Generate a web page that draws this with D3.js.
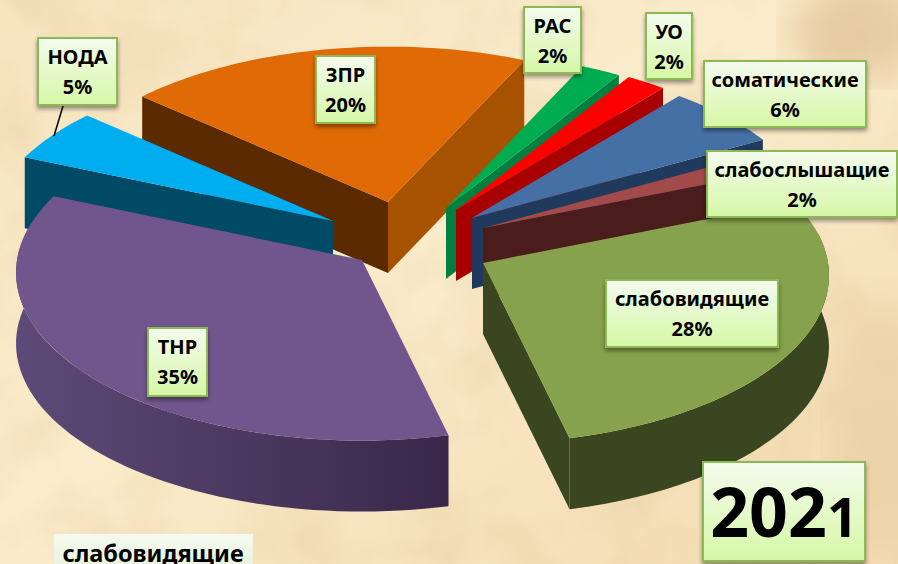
<!DOCTYPE html>
<html lang="ru">
<head>
<meta charset="utf-8">
<script src="https://cdn.jsdelivr.net/npm/d3@7"></script>
<style>
  html, body { margin: 0; padding: 0; background: #f8e6c2; overflow: hidden; }
  text { font-family: "Noto Sans", "Open Sans", sans-serif; font-weight: 700; fill: #000; text-anchor: middle; }
</style>
</head>
<body>
<svg id="chart" width="898" height="564"></svg>
<script>
// values
const categories = ["РАС", "УО", "соматические", "слабослышащие", "слабовидящие", "ТНР", "НОДА", "ЗПР"];
const percents = [2, 2, 6, 2, 28, 35, 5, 20];
const topColors = ["#00ac50", "#ff0000", "#4570a6", "#a34a4a", "#87a24c", "#70568c", "#00aeef", "#e06a06"];
const wallColors = ["#008040", "#a80000", "#1f3a5c", "#4a1c1c", "#3a4620", "url(#purpleWall)", "#004a66", "#a65200"];
const startWallColors = ["#008040", "#a80000", "#1f3a5c", "#4a1c1c", "#3a4620", "#3a2a4a", "#004a66", "#5c2a00"];

// where each exploded slice has its tip
const apexX = [446, 456, 472, 483, 483, 362, 333, 388];
const apexY = [208, 210, 218, 228, 263, 260, 221, 202];
// painter order, back to front
const drawOrder = [7, 0, 1, 2, 3, 6, 5, 4];

// callout boxes: left, top, right, bottom
const boxes = [
  [524, 7, 581, 73], [646, 13, 692, 79], [704, 61, 866, 127], [707, 151, 897, 217],
  [606, 280, 778, 347], [148, 328, 207, 396], [38, 38, 117, 105], [316, 56, 375, 123]
];

const svg = d3.select("#chart");
const defs = svg.append("defs");

// Background
const paper = defs.append("linearGradient").attr("id", "paper")
  .attr("x1", 0).attr("y1", 0).attr("x2", 1).attr("y2", 1);
paper.append("stop").attr("offset", "0%").attr("stop-color", "#f6e4bf");
paper.append("stop").attr("offset", "45%").attr("stop-color", "#fbeccb");
paper.append("stop").attr("offset", "100%").attr("stop-color", "#f2dab0");

const mottle = defs.append("filter").attr("id", "mottle")
  .attr("x", 0).attr("y", 0).attr("width", "100%").attr("height", "100%");
mottle.append("feTurbulence").attr("type", "fractalNoise").attr("baseFrequency", 0.012)
  .attr("numOctaves", 4).attr("seed", 7);
mottle.append("feColorMatrix").attr("type", "matrix")
  .attr("values", "0 0 0 0 0.72  0 0 0 0 0.52  0 0 0 0 0.28  0 0 0 1.5 -0.62");

defs.append("filter").attr("id", "soft").append("feGaussianBlur").attr("stdDeviation", 22);

svg.append("rect").attr("width", 898).attr("height", 564).attr("fill", "url(#paper)");
svg.append("rect").attr("width", 898).attr("height", 564).attr("filter", "url(#mottle)").attr("opacity", 0.38);
svg.append("ellipse").attr("cx", 860).attr("cy", 30).attr("rx", 70).attr("ry", 50)
  .attr("fill", "#d9b78a").attr("opacity", 0.6).attr("filter", "url(#soft)");
svg.append("ellipse").attr("cx", 880).attr("cy", 420).attr("rx", 50).attr("ry", 120)
  .attr("fill", "#e3c79c").attr("opacity", 0.5).attr("filter", "url(#soft)");

// Gradients
const purple = defs.append("linearGradient").attr("id", "purpleWall")
  .attr("gradientUnits", "userSpaceOnUse").attr("x1", 18).attr("x2", 447).attr("y1", 0).attr("y2", 0);
purple.append("stop").attr("offset", "0%").attr("stop-color", "#5d4a78");
purple.append("stop").attr("offset", "100%").attr("stop-color", "#39284a");

const boxFill = defs.append("linearGradient").attr("id", "boxFill").attr("x2", 0).attr("y2", 1);
boxFill.append("stop").attr("offset", "0%").attr("stop-color", "#f4fbee");
boxFill.append("stop").attr("offset", "100%").attr("stop-color", "#d6f8a6");

const paleFill = defs.append("linearGradient").attr("id", "paleFill").attr("x2", 0).attr("y2", 1);
paleFill.append("stop").attr("offset", "0%").attr("stop-color", "#f6faf0");
paleFill.append("stop").attr("offset", "100%").attr("stop-color", "#e6f2dc");

defs.append("filter").attr("id", "boxShadow").attr("x", "-20%").attr("y", "-20%").attr("width", "140%").attr("height", "150%")
  .append("feDropShadow").attr("dx", 0).attr("dy", 3).attr("stdDeviation", 2)
  .attr("flood-color", "#000").attr("flood-opacity", 0.4);

// Pie geometry
const rad = Math.PI / 180;
const rotation = 25 * rad;
const pie = d3.pie().sort(null).startAngle(rotation).endAngle(rotation + 2 * Math.PI);
const arcs = pie(percents);

const spreadX = d3.scaleLinear().domain([-1, 1]).range([-345, 345]);
const spreadY = d3.scaleLinear().domain([-1, 1]).range([167, -167]);
const perspective = 0.075;
const depth = 71;
// the 3D view bends angles a little, least around the upper right
const bend = 1.5 * rad, bendAxis = 40 * rad;

const project = (i, angle, r, drop) => {
  const t = angle + bend * (Math.cos(angle - bendAxis) - 1);
  const u = Math.sin(t) * r, v = Math.cos(t) * r;
  const s = 1 / (1 + perspective * v);
  return [apexX[i] + spreadX(u * s), apexY[i] + spreadY(v * s) + drop];
};

const line = d3.line();
const steps = (a0, a1) => d3.range(0, 61).map(k => a0 + (a1 - a0) * k / 60);

// rim is only seen on the near half
const nearFrom = 80 * rad, nearTo = 285 * rad;

drawOrder.forEach(i => {
  const a = arcs[i];
  const g = svg.append("g").attr("class", "slice");

  const rimFrom = Math.max(a.startAngle, nearFrom), rimTo = Math.min(a.endAngle, nearTo);
  if (rimFrom < rimTo) {
    const angles = steps(rimFrom, rimTo);
    const pts = angles.map(t => project(i, t, 1, 0))
      .concat(angles.slice().reverse().map(t => project(i, t, 1, depth)));
    g.append("path").attr("d", line(pts) + "Z").attr("fill", wallColors[i]);
  }

  // the straight cut faces that turn to the viewer
  if (Math.sin(a.startAngle) < 0) {
    const pts = [project(i, 0, 0, 0), project(i, a.startAngle, 1, 0), project(i, a.startAngle, 1, depth), project(i, 0, 0, depth)];
    g.append("path").attr("d", line(pts) + "Z").attr("fill", startWallColors[i]);
  }
  if (Math.sin(a.endAngle) > 0) {
    const pts = [project(i, 0, 0, 0), project(i, a.endAngle, 1, 0), project(i, a.endAngle, 1, depth), project(i, 0, 0, depth)];
    g.append("path").attr("d", line(pts) + "Z").attr("fill", wallColors[i] === "url(#purpleWall)" ? "#39284a" : wallColors[i]);
  }

  const top = [project(i, 0, 0, 0)].concat(steps(a.startAngle, a.endAngle).map(t => project(i, t, 1, 0)));
  g.append("path").attr("d", line(top) + "Z").attr("fill", topColors[i]);
});

// Leader line for НОДА
svg.append("line").attr("x1", 63).attr("y1", 106).attr("x2", 54).attr("y2", 136)
  .attr("stroke", "#000").attr("stroke-width", 1.5);

// Callouts
const callout = svg.selectAll("g.callout").data(categories).enter()
  .append("g").attr("class", "callout");

callout.append("rect")
  .attr("x", (d, i) => boxes[i][0])
  .attr("y", (d, i) => boxes[i][1])
  .attr("width", (d, i) => boxes[i][2] - boxes[i][0])
  .attr("height", (d, i) => boxes[i][3] - boxes[i][1])
  .attr("fill", "url(#boxFill)")
  .attr("stroke", "#8cb956").attr("stroke-width", 2)
  .attr("filter", "url(#boxShadow)");

callout.append("text")
  .attr("x", (d, i) => (boxes[i][0] + boxes[i][2]) / 2)
  .attr("y", (d, i) => boxes[i][1] + 26)
  .attr("font-size", 20)
  .text(d => d);

callout.append("text")
  .attr("x", (d, i) => (boxes[i][0] + boxes[i][2]) / 2)
  .attr("y", (d, i) => boxes[i][1] + 56)
  .attr("font-size", 20)
  .text((d, i) => percents[i] + "%");

// Year box
svg.append("rect").attr("x", 703).attr("y", 462).attr("width", 162).attr("height", 99)
  .attr("fill", "url(#boxFill)").attr("stroke", "#8cb956").attr("stroke-width", 2)
  .attr("filter", "url(#boxShadow)");
const year = svg.append("text").attr("x", 784).attr("y", 537).attr("font-size", 68);
year.append("tspan").text("202");
year.append("tspan").attr("font-size", 54).text("1");

// Cut off label at the bottom edge
svg.append("rect").attr("x", 54).attr("y", 534).attr("width", 199).attr("height", 40)
  .attr("fill", "url(#paleFill)");
svg.append("text").attr("x", 153).attr("y", 562).attr("font-size", 23.5).text("слабовидящие");
</script>
</body>
</html>
